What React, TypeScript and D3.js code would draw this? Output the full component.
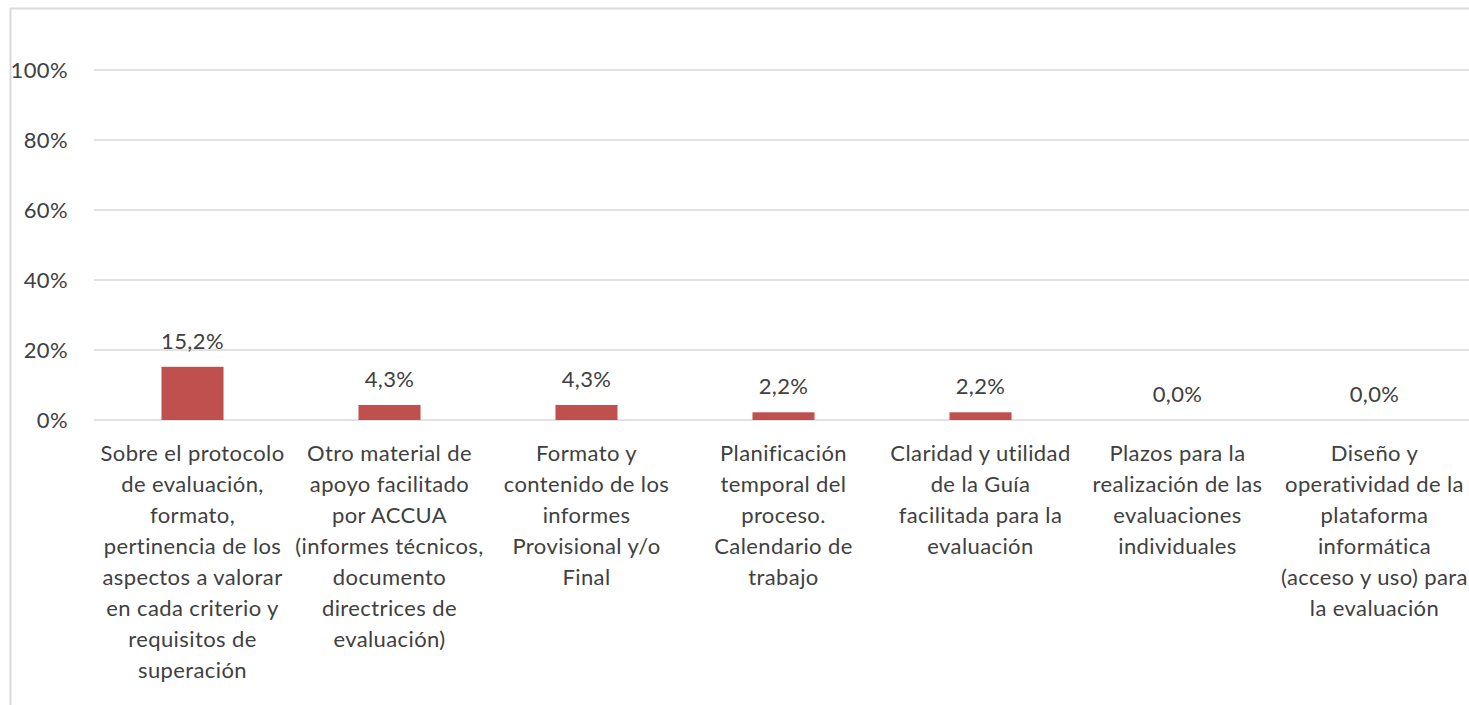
import React from "react";
import * as d3 from "d3";

const categories: string[][] = [
  ["Sobre el protocolo", "de evaluación,", "formato,", "pertinencia de los", "aspectos a valorar", "en cada criterio y", "requisitos de", "superación"],
  ["Otro material de", "apoyo facilitado", "por ACCUA", "(informes técnicos,", "documento", "directrices de", "evaluación)"],
  ["Formato y", "contenido de los", "informes", "Provisional y/o", "Final"],
  ["Planificación", "temporal del", "proceso.", "Calendario de", "trabajo"],
  ["Claridad y utilidad", "de la Guía", "facilitada para la", "evaluación"],
  ["Plazos para la", "realización de las", "evaluaciones", "individuales"],
  ["Diseño y", "operatividad de la", "plataforma", "informática", "(acceso y uso) para", "la evaluación"],
];
const values: number[] = [15.2, 4.3, 4.3, 2.2, 2.2, 0.0, 0.0];
const ticks: number[] = [0, 20, 40, 60, 80, 100];

const W = 1469;
const H = 705;
const FONT = "Lato, 'Open Sans', sans-serif";
const FS = 22;
const LS = 0.4;

export default function App() {
  const x = d3
    .scaleBand<number>()
    .domain(values.map((_, i) => i))
    .range([94, 94 + 7 * 197])
    .paddingInner(0.685)
    .paddingOuter(0.3425);
  const y = d3.scaleLinear().domain([0, 100]).range([420, 70]);
  const fmt = (v: number) => v.toFixed(1).replace(".", ",") + "%";

  return (
    <svg
      width={W}
      height={H}
      style={{ position: "fixed", left: 0, top: 0, background: "#fff" }}
      fontFamily={FONT}
      letterSpacing={LS}
    >
      <rect x={10.5} y={8.5} width={W + 20} height={H + 20} fill="#fff" stroke="#d9d9d9" strokeWidth={2} />
      {ticks.map((t) => (
        <g key={t}>
          <line x1={94} x2={W + 10} y1={y(t)} y2={y(t)} stroke="#d9d9d9" strokeWidth={1.5} />
          <text x={68} y={y(t)} dy="0.35em" textAnchor="end" fontSize={FS} fill="#404040">
            {t}%
          </text>
        </g>
      ))}
      {values.map((v, i) => {
        const bx = x(i)!;
        const bw = x.bandwidth();
        const cx = bx + bw / 2;
        return (
          <g key={i}>
            {v > 0 && <rect x={bx} y={y(v)} width={bw} height={y(0) - y(v)} fill="#c0504d" />}
            <text x={cx} y={y(v) - 18} textAnchor="middle" fontSize={FS} fill="#404040">
              {fmt(v)}
            </text>
            <text textAnchor="middle" fontSize={FS} fill="#404040">
              {categories[i].map((line, j) => (
                <tspan key={j} x={cx} y={461 + j * 31}>
                  {line}
                </tspan>
              ))}
            </text>
          </g>
        );
      })}
    </svg>
  );
}
